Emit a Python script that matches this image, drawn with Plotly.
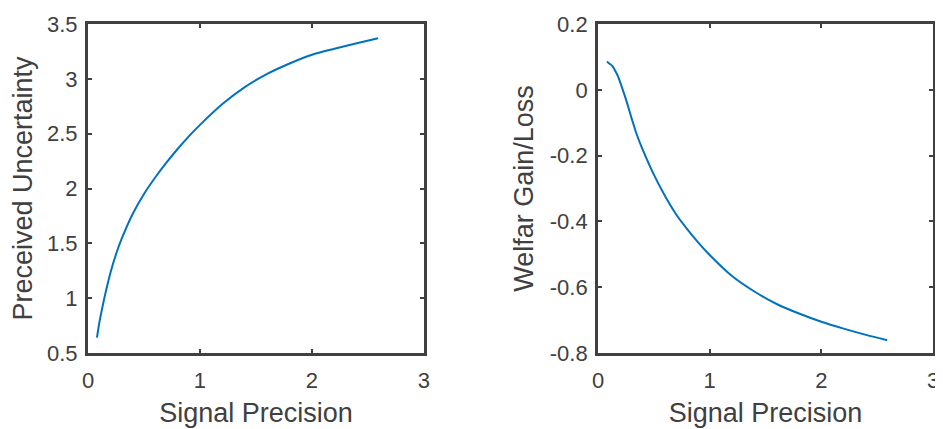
import plotly.graph_objects as go
from plotly.subplots import make_subplots

signal_precision_left = [0.08, 0.1, 0.12, 0.15, 0.2, 0.25, 0.3, 0.4, 0.5, 0.6, 0.7, 0.8, 0.9, 1.0,
                         1.2, 1.4, 1.6, 1.8, 2.0, 2.2, 2.4, 2.59]
perceived_uncertainty = [0.64, 0.77, 0.875, 1.02, 1.23, 1.40, 1.54, 1.77, 1.95, 2.10, 2.235, 2.36, 2.475, 2.58,
                         2.77, 2.925, 3.045, 3.14, 3.22, 3.275, 3.325, 3.37]

signal_precision_right = [0.08, 0.1, 0.13, 0.15, 0.18, 0.2, 0.25, 0.3, 0.35, 0.4, 0.5, 0.6, 0.7, 0.8, 0.9, 1.0,
                          1.2, 1.4, 1.6, 1.8, 2.0, 2.2, 2.4, 2.59]
welfare_gain_loss = [0.086, 0.08, 0.072, 0.06, 0.04, 0.021, -0.029, -0.086, -0.139, -0.182, -0.258, -0.323,
                     -0.379, -0.424, -0.465, -0.502, -0.566, -0.613, -0.651, -0.68, -0.705, -0.726, -0.745, -0.761]

x_ticks = [0, 1, 2, 3]
left_y_ticks = [0.5, 1, 1.5, 2, 2.5, 3, 3.5]
left_y_labels = ["0.5", "1", "1.5", "2", "2.5", "3", "3.5"]
right_y_ticks = [-0.8, -0.6, -0.4, -0.2, 0, 0.2]
right_y_labels = ["-0.8", "-0.6", "-0.4", "-0.2", "0", "0.2"]

LINE = "#0072BD"
FRAME = "#404040"
TEXT = "#404040"
FONT = "Liberation Sans, Arial, sans-serif"

fig = make_subplots(rows=1, cols=2)
fig.add_trace(go.Scatter(x=signal_precision_left, y=perceived_uncertainty, mode="lines",
                         line=dict(color=LINE, width=2, shape="spline", smoothing=0.8),
                         showlegend=False), row=1, col=1)
fig.add_trace(go.Scatter(x=signal_precision_right, y=welfare_gain_loss, mode="lines",
                         line=dict(color=LINE, width=2, shape="spline", smoothing=0.8),
                         showlegend=False), row=1, col=2)

axis_common = dict(showgrid=False, zeroline=False, showline=True, linecolor=FRAME, linewidth=3,
                   mirror="ticks", ticks="inside", ticklen=4, tickwidth=1.5, tickcolor=FRAME,
                   automargin=False, tickfont=dict(family=FONT, size=22, color=TEXT))

fig.update_xaxes(**axis_common, range=[0, 3], tickvals=x_ticks, ticklabelstandoff=6,
                 title=dict(text="Signal Precision", font=dict(family=FONT, size=27, color=TEXT), standoff=11))
fig.update_xaxes(domain=[0, 0.3976], row=1, col=1)
fig.update_xaxes(domain=[0.6036, 1], row=1, col=2)

fig.update_yaxes(**axis_common, ticklabelstandoff=3)
fig.update_yaxes(range=[0.5, 3.5], tickvals=left_y_ticks, ticktext=left_y_labels,
                 title=dict(text="Preceived Uncertainty", font=dict(family=FONT, size=27, color=TEXT), standoff=9),
                 row=1, col=1)
fig.update_yaxes(range=[-0.8, 0.2], tickvals=right_y_ticks, ticktext=right_y_labels,
                 title=dict(text="Welfar Gain/Loss", font=dict(family=FONT, size=27, color=TEXT), standoff=9),
                 row=1, col=2)

fig.update_layout(width=935, height=421, paper_bgcolor="white", plot_bgcolor="white",
                  margin=dict(l=80, r=10, t=16, b=76), font=dict(family=FONT, color=TEXT))

fig.write_html("out.html")
